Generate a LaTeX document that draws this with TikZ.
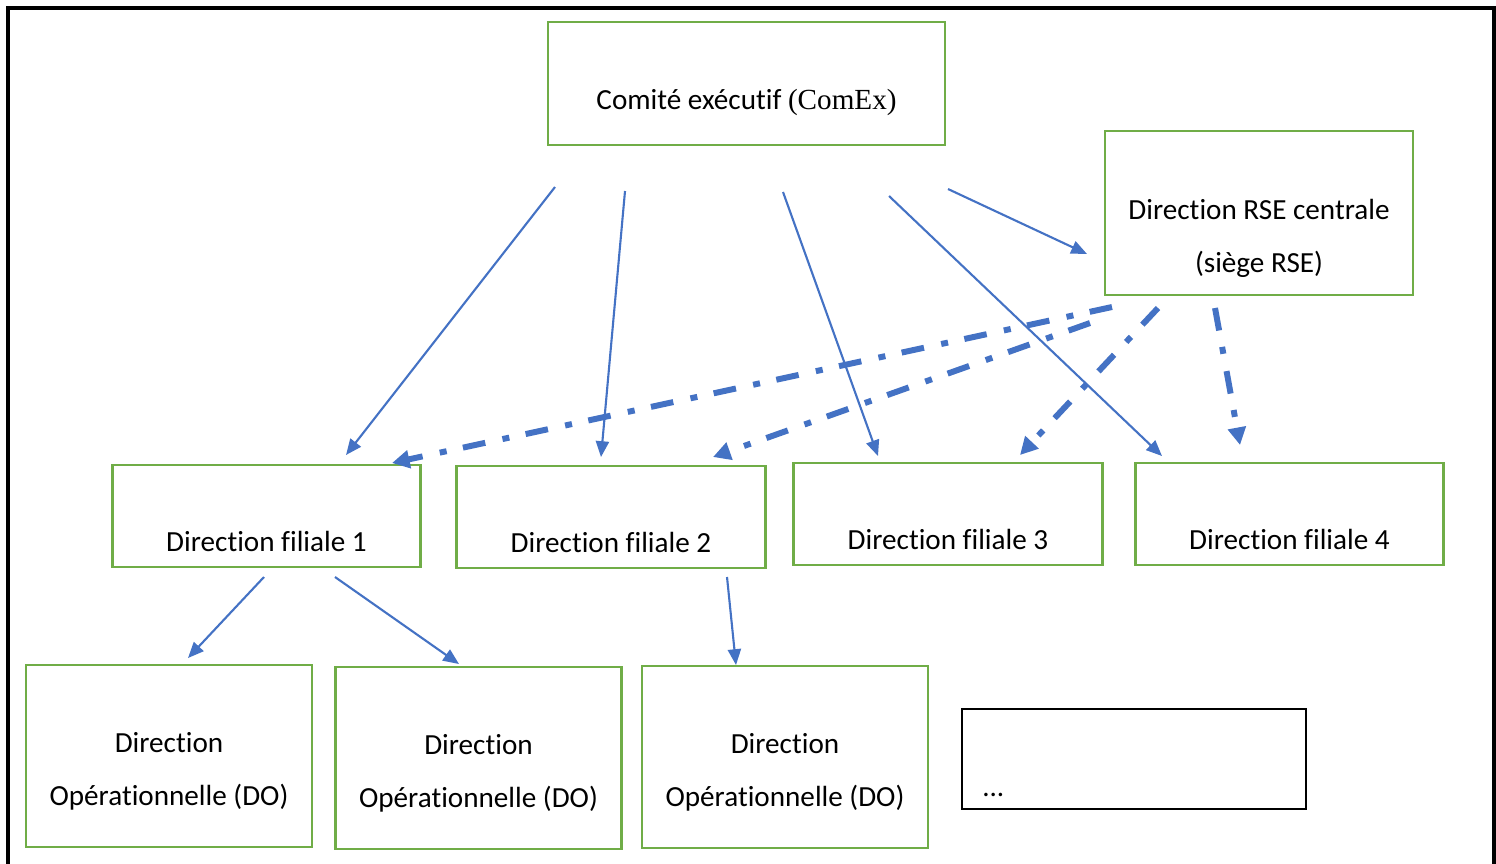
\documentclass[tikz,border=0pt]{standalone}
\usepackage{fontspec}
\setmainfont{Carlito}[Ligatures={NoCommon,NoContextual}, Contextuals={NoAlternate}]
\newfontfamily\timesfont{Liberation Serif}
\usepackage{tikz}
\usetikzlibrary{arrows.meta}

\definecolor{boxgreen}{HTML}{70AD47}
\definecolor{linkblue}{HTML}{4472C4}

\tikzset{
  unit/.style={draw=boxgreen, line width=1.6pt, inner sep=0pt, outer sep=0pt},
  filiale/.style={unit, minimum width=6.17cm, minimum height=2.04cm},
  opunit/.style={unit, minimum width=5.72cm, minimum height=3.64cm},
  lbl/.style={anchor=base, align=center, font=\fontsize{16.6}{30}\selectfont},
  link/.style={draw=linkblue, line width=1.2pt, -{Triangle[length=9pt,width=7.5pt]}},
  rselink/.style={draw=linkblue, line width=3.4pt, dash pattern=on 13pt off 9.5pt on 4pt off 10pt,
    -{Triangle[length=10pt,width=10pt]}},
}

\begin{document}
\begin{tikzpicture}[x=0.02cm, y=-0.02cm]

  \useasboundingbox (0,0) rectangle (1496,863);
  \draw[line width=2pt] (8,880) -- (8,8) -- (1494,8) -- (1494,880);

  % top level
  \node[unit, minimum width=7.94cm, minimum height=2.46cm] (comex) at (746.5,83.5) {};
  \node[lbl] (comex-t) at (746.5,109) {Comité exécutif {\timesfont(ComEx)}};
  \node[unit, minimum width=6.16cm, minimum height=3.28cm] (rse) at (1259,213) {};
  \node[lbl] (rse-t) at (1259,272) {Direction RSE centrale\\(siège RSE)};

  % filiales
  \node[filiale] (fil1) at (266.5,516) {};
  \node[filiale] (fil2) at (611,517) {};
  \node[filiale] (fil3) at (948,514) {};
  \node[filiale] (fil4) at (1289.5,514) {};
  \node[lbl] (fil1-t) at (266.5,551) {Direction filiale 1};
  \node[lbl] (fil2-t) at (611,552) {Direction filiale 2};
  \node[lbl] (fil3-t) at (948,549) {Direction filiale 3};
  \node[lbl] (fil4-t) at (1289.5,549) {Direction filiale 4};

  % directions operationnelles
  \node[opunit] (do1) at (169,756) {};
  \node[opunit] (do2) at (478.5,758) {};
  \node[opunit] (do3) at (785,757) {};
  \node[lbl] (do1-t) at (169,805) {Direction\\Opérationnelle (DO)};
  \node[lbl] (do2-t) at (478.5,807) {Direction\\Opérationnelle (DO)};
  \node[lbl] (do3-t) at (785,806) {Direction\\Opérationnelle (DO)};
  \node[draw, line width=0.8pt, minimum width=6.88cm, minimum height=2cm, inner sep=0pt] (etc) at (1134,759) {};
  \node[anchor=base west, inner sep=0pt, font=\fontsize{16.5}{20}\selectfont] (etc-t) at (982,796) {...};

  % free ends of the links
  \coordinate (cx1) at (555,187);  \coordinate (f1-in) at (346,455);
  \coordinate (cx2) at (625,191);  \coordinate (f2-in) at (601,457);
  \coordinate (cx3) at (783,192);  \coordinate (f3-in) at (878,456);
  \coordinate (cx4) at (889,196);  \coordinate (f4-in) at (1162,456);
  \coordinate (cx5) at (948,189);  \coordinate (rse-in) at (1087,254);
  \coordinate (f1-o1) at (264,577); \coordinate (do1-in) at (188,658);
  \coordinate (f1-o2) at (335,577); \coordinate (do2-in) at (459,664);
  \coordinate (f2-o) at (727,577);  \coordinate (do3-in) at (736,665);
  \coordinate (rse1) at (1112,307); \coordinate (f1-r) at (392,463);
  \coordinate (rse2) at (1090,323); \coordinate (f2-r) at (713,457);
  \coordinate (rse3) at (1158,308); \coordinate (f3-r) at (1020,455);
  \coordinate (rse4) at (1215,308); \coordinate (f4-r) at (1240,445);

  \draw[link] (cx1) -- (f1-in);
  \draw[link] (cx2) -- (f2-in);
  \draw[link] (cx3) -- (f3-in);
  \draw[link] (cx4) -- (f4-in);
  \draw[link] (cx5) -- (rse-in);
  \draw[link] (f1-o1) -- (do1-in);
  \draw[link] (f1-o2) -- (do2-in);
  \draw[link] (f2-o) -- (do3-in);

  \draw[rselink] (rse1) -- (f1-r);
  \draw[rselink] (rse2) -- (f2-r);
  \draw[rselink] (rse3) -- (f3-r);
  \draw[rselink] (rse4) -- (f4-r);

\end{tikzpicture}
\end{document}
